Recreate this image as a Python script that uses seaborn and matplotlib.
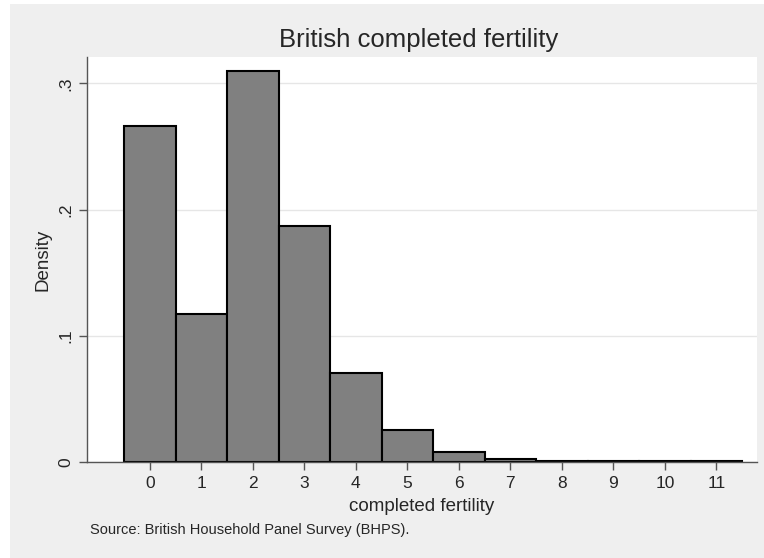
import numpy as np
import pandas as pd
import matplotlib
matplotlib.use('Agg')
import matplotlib.pyplot as plt
import seaborn as sns
from matplotlib.patches import Rectangle

# data (density by number of children)
children = [0, 1, 2, 3, 4, 5, 6, 7, 8, 9, 10, 11]
density = [0.266, 0.117, 0.310, 0.187, 0.0705, 0.0255, 0.0080, 0.0026, 0.0010, 0.0004, 0.0004, 0.0006]
y_ticks = [0, 0.1, 0.2, 0.3]
y_ticklabels = ['0', '.1', '.2', '.3']

df = pd.DataFrame({'children': children, 'density': density})

sns.set_style('white')
plt.rcParams['font.family'] = ['Liberation Sans', 'DejaVu Sans']

W, H = 764, 558
fig = plt.figure(figsize=(W / 100, H / 100), dpi=100)
fig.patch.set_facecolor('white')
# stata graph region (light gray)
fig.patches.append(Rectangle((10 / W, 0), 1 - 10 / W, 1 - 4 / H, transform=fig.transFigure,
                             facecolor='#efefef', edgecolor='none', zorder=-10))

ax = fig.add_axes([87 / W, 1 - 462 / H, (757 - 87) / W, (462 - 57) / H])
ax.set_facecolor('white')

sns.histplot(data=df, x='children', weights='density', discrete=True, stat='count',
             color='#808080', edgecolor='black', linewidth=1.5, alpha=1, ax=ax)

ax.set_xlim(-1.22, 11.79)
ax.set_ylim(0, 0.321)
ax.set_yticks(y_ticks)
ax.set_yticklabels(y_ticklabels, rotation=90, va='center')
ax.set_xticks(children)
ax.set_xticklabels([str(c) for c in children])
ax.yaxis.grid(True, color='#e6e6e6', linewidth=1)
ax.set_axisbelow(True)

for s in ['top', 'right']:
    ax.spines[s].set_visible(False)
for s in ['left', 'bottom']:
    ax.spines[s].set_color('#555555')
    ax.spines[s].set_linewidth(1)
ax.tick_params(axis='both', direction='out', length=6, width=1, color='#555555',
               labelsize=12.5, pad=4, left=True, bottom=True)

ax.set_xlabel('completed fertility', fontsize=13.5, labelpad=5)
ax.set_ylabel('Density', fontsize=13.5, labelpad=5)
fig.text(0.5 * (87 + 757) / W - 0.005, 1 - 40 / H, 'British completed fertility',
         ha='center', va='center', fontsize=18.5)
fig.text(90 / W, 1 - 530 / H, 'Source: British Household Panel Survey (BHPS).',
         ha='left', va='center', fontsize=10.5)

fig.savefig('out.png', dpi=100)
